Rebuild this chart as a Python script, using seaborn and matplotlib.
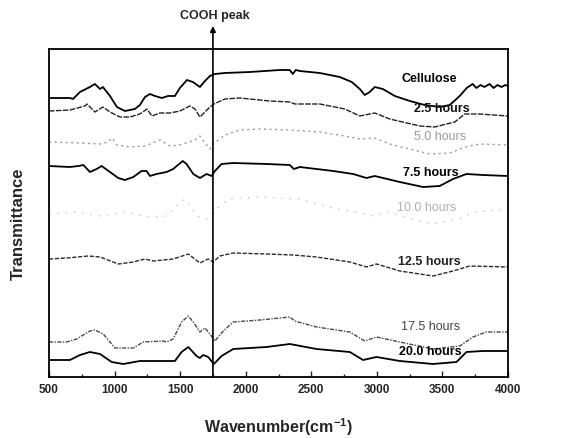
import numpy as np
import pandas as pd
import seaborn as sns
import matplotlib
matplotlib.use("Agg")
import matplotlib.pyplot as plt

# FTIR spectra, transmittance in arbitrary (offset) units
cellulose_wn = [500, 660, 683, 736, 812, 850, 889, 911, 965, 1018, 1079, 1155, 1193, 1232, 1270,
                1308, 1361, 1407, 1460, 1498, 1552, 1597, 1651, 1689, 1727, 1765, 1841, 2032,
                2260, 2336, 2359, 2382, 2413, 2565, 2717, 2809, 2870, 2908, 2946, 2984, 3045,
                3137, 3251, 3365, 3479, 3556, 3632, 3685, 3730, 3760, 3790, 3820, 3860, 3890,
                3920, 3950, 3980, 4000]
cellulose_t = [279, 279, 278, 285, 290, 293, 288, 290, 281, 270, 266, 268, 272, 280, 283,
               281, 279, 281, 281, 289, 297, 295, 290, 296, 301, 303, 304, 305,
               307, 307, 303, 307, 306, 304, 300, 295, 288, 282, 285, 290, 288,
               281, 276, 272, 270, 272, 281, 289, 293, 289, 292, 290, 293, 289,
               292, 290, 292, 291]

h25_wn = [500, 660, 774, 790, 850, 911, 965, 1041, 1117, 1193, 1247, 1285, 1346, 1422, 1498,
          1574, 1613, 1651, 1689, 1727, 1757, 1841, 1955, 2184, 2336, 2375, 2565, 2756, 2870,
          2984, 3098, 3327, 3441, 3594, 3670, 3784, 4000]
h25_t = [266, 267, 271, 273, 265, 270, 265, 260, 260, 263, 268, 261, 264, 264, 266,
         271, 268, 260, 265, 270, 273, 278, 279, 276, 275, 273, 273, 268, 261,
         264, 258, 251, 250, 255, 263, 263, 261]

h50_wn = [500, 736, 889, 950, 980, 1018, 1117, 1232, 1308, 1346, 1422, 1498, 1613, 1651, 1689,
          1727, 1750, 1841, 1955, 2108, 2336, 2565, 2756, 2870, 2984, 3098, 3251, 3403, 3556,
          3670, 3784, 4000]
h50_t = [235, 234, 233, 235, 239, 232, 230, 231, 235, 237, 231, 232, 237, 241, 234,
         228, 233, 242, 247, 248, 247, 245, 241, 238, 239, 233, 228, 223, 224,
         230, 233, 232]

h75_wn = [500, 660, 724, 762, 812, 863, 901, 965, 1028, 1079, 1143, 1206, 1244, 1270, 1320,
          1397, 1447, 1520, 1549, 1600, 1651, 1701, 1740, 1765, 1816, 1905, 2159, 2336, 2367,
          2413, 2667, 2819, 2921, 2984, 3175, 3352, 3479, 3581, 3683, 3809, 4000]
h75_t = [211, 210, 211, 212, 205, 208, 211, 205, 199, 197, 200, 206, 206, 201, 203,
         205, 208, 216, 213, 203, 199, 203, 201, 206, 213, 214, 213, 212, 208,
         210, 206, 203, 199, 201, 195, 190, 191, 198, 203, 202, 201]

h100_wn = [500, 711, 889, 1092, 1244, 1397, 1511, 1549, 1625, 1701, 1752, 1867, 2100, 2400,
           2692, 2845, 2971, 3098, 3250, 3428, 3632, 3733, 4000]
h100_t = [163, 165, 161, 165, 160, 161, 176, 178, 161, 158, 165, 178, 180, 178,
          168, 165, 161, 165, 158, 153, 158, 165, 168]

h125_wn = [500, 635, 800, 889, 1028, 1143, 1232, 1295, 1447, 1562, 1651, 1714, 1752, 1803,
           1905, 2159, 2362, 2540, 2794, 2921, 2997, 3175, 3428, 3581, 3708, 4000]
h125_t = [118, 119, 121, 120, 113, 115, 118, 116, 118, 123, 114, 118, 115, 121,
          124, 123, 122, 120, 115, 110, 113, 106, 101, 106, 111, 110]

h175_wn = [500, 635, 711, 812, 850, 914, 965, 1003, 1143, 1219, 1371, 1397, 1447, 1511, 1562,
           1600, 1651, 1689, 1727, 1765, 1829, 1905, 2108, 2336, 2374, 2540, 2794, 2908, 2997,
           3175, 3428, 3632, 3733, 3835, 4000]
h175_t = [35, 35, 38, 46, 47, 43, 35, 29, 29, 35, 36, 35, 38, 55, 61,
          55, 45, 49, 43, 36, 46, 55, 57, 60, 56, 50, 45, 36, 40,
          35, 28, 31, 40, 45, 45]

h200_wn = [500, 660, 736, 812, 889, 978, 1066, 1193, 1346, 1460, 1511, 1562, 1625, 1650, 1676,
           1714, 1757, 1816, 1905, 2159, 2336, 2540, 2794, 2895, 2997, 3175, 3428, 3607, 3683,
           3809, 4000]
h200_t = [17, 17, 22, 25, 23, 15, 13, 16, 16, 16, 25, 30, 21, 19, 22,
          20, 13, 21, 28, 30, 33, 28, 25, 17, 20, 16, 13, 15, 25,
          26, 26]

series_names = ["Cellulose", "2.5 hours", "5.0 hours", "7.5 hours", "10.0 hours",
                "12.5 hours", "17.5 hours", "20.0 hours"]
series_wn = [cellulose_wn, h25_wn, h50_wn, h75_wn, h100_wn, h125_wn, h175_wn, h200_wn]
series_t = [cellulose_t, h25_t, h50_t, h75_t, h100_t, h125_t, h175_t, h200_t]

# label anchor (wavenumber, transmittance)
label_x = [3396, 3492, 3485, 3408, 3383, 3403, 3408, 3408]
label_y = [299, 269, 241, 205, 170, 116, 51, 26]

# styling per series
line_colors = ["black", "#222222", "#9a9a9a", "black", "#c4c4c4", "#2a2a2a", "#4a4a4a", "black"]
line_styles = ["-", (0, (4, 1)), (0, (1.5, 2.5)), "-", (0, (1, 5)), (0, (3, 1.2)),
               (0, (3, 1, 1, 1)), "-"]
line_widths = [1.3, 1.0, 1.0, 1.3, 1.0, 1.0, 1.0, 1.3]
text_colors = ["black", "#111111", "#9a9a9a", "black", "#b0b0b0", "#222222", "#444444", "black"]
text_weights = ["bold", "bold", "normal", "bold", "normal", "bold", "normal", "bold"]

sns.set_style("ticks")
plt.rcParams["font.family"] = ["Liberation Sans", "DejaVu Sans"]
plt.rcParams["mathtext.fontset"] = "custom"
plt.rcParams["mathtext.bf"] = "Liberation Sans:bold"
plt.rcParams["mathtext.rm"] = "Liberation Sans:bold"

fig = plt.figure(figsize=(5.78, 4.39), dpi=100)
ax = fig.add_axes([49 / 578, 61 / 439, 459 / 578, 328 / 439])

for name, wn, t, c, ls, lw in zip(series_names, series_wn, series_t,
                                  line_colors, line_styles, line_widths):
    df = pd.DataFrame({"wavenumber": wn, "transmittance": t})
    sns.lineplot(data=df, x="wavenumber", y="transmittance", ax=ax, color=c,
                 linestyle=ls, linewidth=lw, sort=False)

for name, lx, ly, c, w in zip(series_names, label_x, label_y, text_colors, text_weights):
    ax.text(lx, ly, name, ha="center", va="center", fontsize=9, color=c, fontweight=w)

ax.set_xlim(500, 4000)
ax.set_ylim(0, 328)

# COOH peak marker line with arrow above the frame
ax.annotate("", xy=(1750, 351), xytext=(1750, 0), xycoords="data", textcoords="data",
            annotation_clip=False,
            arrowprops=dict(arrowstyle="-|>", color="black", lw=1.2,
                            shrinkA=0, shrinkB=0, mutation_scale=8))
ax.text(1765, 362, "COOH peak", ha="center", va="center", fontsize=9,
        fontweight="bold", clip_on=False)

ax.set_xticks(np.arange(500, 4001, 500))
ax.set_xticks(np.arange(500, 4001, 250), minor=True)
ax.set_yticks([])
ax.tick_params(axis="x", which="major", direction="in", length=4, width=1, pad=4,
               labelsize=8.5)
ax.tick_params(axis="x", which="minor", direction="in", length=2.5, width=1)
plt.setp(ax.get_xticklabels(), fontweight="bold")
for sp in ax.spines.values():
    sp.set_visible(True)
    sp.set_linewidth(1.3)
    sp.set_color("black")

ax.set_xlabel(r"Wavenumber(cm$^{\mathbf{-1}}$)", fontsize=11.5, fontweight="bold")
ax.xaxis.set_label_coords(0.5, -0.118)
ax.set_ylabel("Transmittance", fontsize=12, fontweight="bold")
ax.yaxis.set_label_coords(-0.05, 0.47)

fig.savefig("out.png", dpi=100)
